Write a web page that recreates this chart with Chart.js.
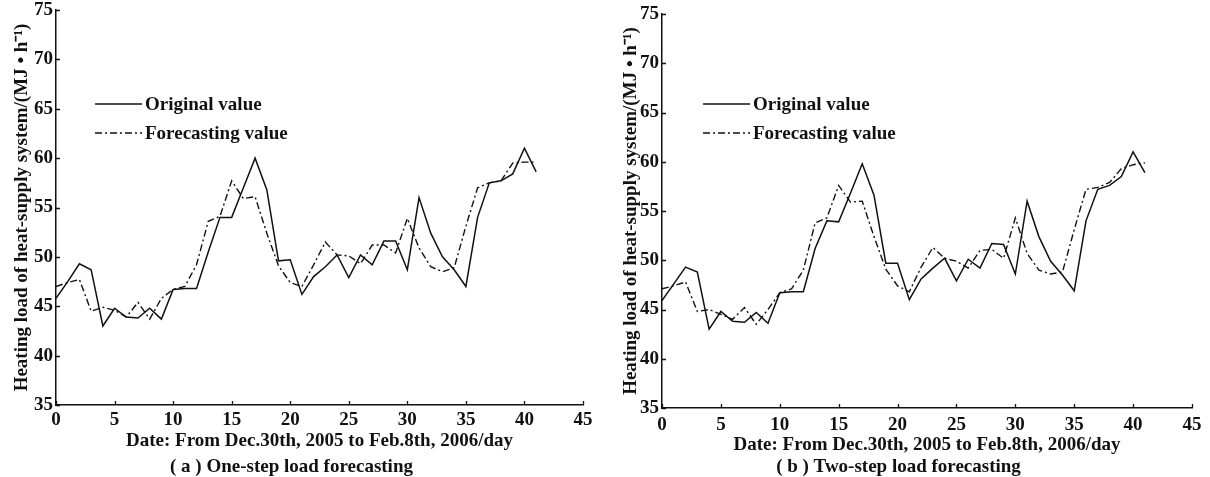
<!DOCTYPE html>
<html><head><meta charset="utf-8">
<script src="https://cdn.jsdelivr.net/npm/chart.js@4.4.1/dist/chart.umd.min.js"></script>
<style>
html,body{margin:0;padding:0;background:#fff;}
body{width:1210px;height:477px;position:relative;overflow:hidden;}
.p{position:absolute;top:0;width:605px;height:477px;}
</style></head><body>
<div class="p" style="left:0"><canvas id="ca" width="605" height="477"></canvas></div>
<div class="p" style="left:605px"><canvas id="cb" width="605" height="477"></canvas></div>
<script>
// ---- data ----
const days = [0,1,2,3,4,5,6,7,8,9,10,11,12,13,14,15,16,17,18,19,20,21,22,23,24,25,26,27,28,29,30,31,32,33,34,35,36,37,38,39,40,41];
const origA = [45.8,47.5,49.3,48.7,43.0,44.8,43.9,43.8,44.8,43.7,46.7,46.8,46.8,50.5,54.0,54.0,57.0,60.0,56.8,49.6,49.7,46.2,48.0,49.0,50.2,47.9,50.2,49.2,51.6,51.6,48.7,56.0,52.4,50.0,48.7,47.0,54.0,57.5,57.7,58.4,61.0,58.6];
const foreA = [47.0,47.4,47.7,44.5,44.9,44.6,43.9,45.4,43.7,45.8,46.7,47.0,49.2,53.6,54.1,57.7,55.9,56.1,52.4,49.1,47.4,47.0,49.2,51.5,50.2,50.1,49.3,51.2,51.2,50.4,53.9,50.9,49.0,48.5,48.9,53.1,57.0,57.5,57.7,59.5,59.6,59.6];
const origB = [45.9,47.6,49.3,48.8,43.0,44.8,43.8,43.7,44.7,43.6,46.7,46.8,46.8,51.2,54.0,53.9,56.8,59.8,56.6,49.7,49.7,46.0,48.1,49.2,50.2,47.9,50.1,49.2,51.7,51.6,48.6,56.0,52.4,49.9,48.5,46.9,54.0,57.2,57.6,58.5,61.0,58.9];
const foreB = [47.1,47.4,47.8,44.8,45.0,44.5,44.0,45.2,43.5,45.0,46.7,47.1,49.0,53.8,54.3,57.6,55.9,56.0,52.4,49.1,47.4,46.8,49.3,51.3,50.2,49.9,49.2,51.0,51.1,50.2,54.3,50.7,49.0,48.6,48.8,53.1,57.2,57.4,57.9,59.3,59.7,59.9];
const xTicks = [0,5,10,15,20,25,30,35,40,45];
const yTicks = [35,40,45,50,55,60,65,70,75];
const seriesNames = ['Original value','Forecasting value'];
const xTitle = 'Date: From Dec.30th, 2005 to Feb.8th, 2006/day';
const yTitle = 'Heating load of heat-supply system/(MJ \u2022 h\u207B\u00B9)';
const captions = ['( a ) One-step load forecasting','( b ) Two-step load forecasting'];

// ---- styling ----
const FAM = '"Liberation Serif","Times New Roman",serif';
const INK = '#111';
const font19 = {family:FAM, size:19, weight:'bold', lineHeight:1.2};
const font19t = {family:FAM, size:19, weight:'bold', lineHeight:1.0};
const xTickFont = {family:FAM, size:19, weight:'bold', lineHeight:1.0};
const yTickFont = {family:FAM, size:19, weight:'bold', lineHeight:0.6};
const DASHDOT = [7,3,2,3];

const inwardTicks = {
  id:'inwardTicks',
  afterDraw(chart){
    const ctx = chart.ctx, xs = chart.scales.x, ys = chart.scales.y, a = chart.chartArea;
    ctx.save();
    ctx.strokeStyle = INK; ctx.lineWidth = 1.3;
    ctx.beginPath();
    xs.ticks.forEach(t => { const px = Math.round(xs.getPixelForValue(t.value)) + 0.5; ctx.moveTo(px, a.bottom); ctx.lineTo(px, a.bottom - 4); });
    ys.ticks.forEach(t => { const py = Math.round(ys.getPixelForValue(t.value)) + 0.5; ctx.moveTo(a.left, py); ctx.lineTo(a.left + 4, py); });
    ctx.stroke();
    ctx.restore();
  }
};

const innerLegend = {
  id:'innerLegend',
  afterDraw(chart, args, opts){
    const ctx = chart.ctx;
    ctx.save();
    ctx.font = 'bold 19px ' + FAM;
    ctx.textBaseline = 'middle';
    ctx.fillStyle = INK;
    chart.data.datasets.forEach((ds, i) => {
      const y = opts.y[i];
      ctx.strokeStyle = ds.borderColor; ctx.lineWidth = ds.borderWidth;
      ctx.setLineDash(ds.borderDash || []);
      ctx.beginPath(); ctx.moveTo(opts.x0, y); ctx.lineTo(opts.x1, y); ctx.stroke();
      ctx.setLineDash([]);
      ctx.fillText(ds.label, opts.tx, y + 1);
    });
    ctx.restore();
  }
};

function build(id, orig, fore, caption, g){
  const toPts = arr => days.map((d, i) => ({x:d, y:arr[i]}));
  return new Chart(document.getElementById(id), {
    type:'line',
    data:{datasets:[
      {label:seriesNames[0], data:toPts(orig), borderColor:INK, borderWidth:1.5, pointRadius:0, tension:0, fill:false},
      {label:seriesNames[1], data:toPts(fore), borderColor:INK, borderWidth:1.4, borderDash:DASHDOT, pointRadius:0, tension:0, fill:false}
    ]},
    plugins:[inwardTicks, innerLegend],
    options:{
      responsive:false, animation:false, devicePixelRatio:1,
      layout:{padding:{left:0, right:g.padR, top:g.padT, bottom:0}},
      plugins:{
        legend:{display:false}, tooltip:{enabled:false},
        title:{display:true, position:'bottom', text:caption, font:font19t, color:INK, padding:{top:0, bottom:0}},
        innerLegend:{x0:g.lx0, x1:g.lx1, tx:g.tx, y:g.ly}
      },
      scales:{
        x:{type:'linear', min:0, max:45,
           afterBuildTicks(s){ s.ticks = xTicks.map(v => ({value:v})); },
           ticks:{font:xTickFont, color:INK, padding:g.xTickPad, maxRotation:0, autoSkip:false},
           grid:{display:false, drawTicks:false, tickLength:0}, border:{display:true, color:INK, width:1.5},
           title:{display:true, text:xTitle, font:font19t, color:INK, padding:{top:0, bottom:g.xTitlePad}},
           afterFit(s){ s.height = g.xH; }},
        y:{type:'linear', min:35, max:75,
           afterBuildTicks(s){ s.ticks = yTicks.map(v => ({value:v})); },
           ticks:{font:yTickFont, color:INK, padding:3, autoSkip:false},
           grid:{display:false, drawTicks:false, tickLength:0}, border:{display:true, color:INK, width:1.5},
           title:{display:true, text:yTitle, font:font19, color:INK, padding:{top:g.yTitlePad, bottom:0}},
           afterFit(s){ s.width = g.yW; }}
      }
    }
  });
}

build('ca', origA, foreA, captions[0], {padR:22, padT:10, xH:53, xTickPad:6, xTitlePad:7.5, yW:56, yTitlePad:10.4, lx0:95, lx1:142, tx:145, ly:[104,133]});
build('cb', origB, foreB, captions[1], {padR:18, padT:14, xH:50, xTickPad:7.5, xTitlePad:3.5, yW:57, yTitlePad:14.4, lx0:98, lx1:145, tx:148, ly:[104,133]});
</script>
</body></html>
